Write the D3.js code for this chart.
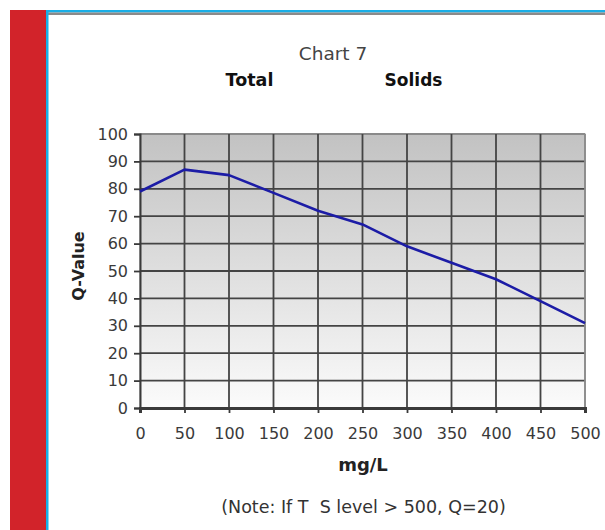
<!DOCTYPE html>
<html>
<head>
<meta charset="utf-8">
<script src="https://cdn.jsdelivr.net/npm/d3@7"></script>
<style>
  html, body { margin: 0; padding: 0; background: #fff; }
  svg { display: block; }
</style>
</head>
<body>
<svg id="chart" width="605" height="530"></svg>
<script>
// Total solids concentration (mg/L) and its Q-value
const concentration = [0, 50, 100, 150, 200, 250, 300, 350, 400, 450, 500];
const qValue = [79, 87, 85, 78.5, 72, 67, 59, 53, 47, 39, 31];
const xTicks = [0, 50, 100, 150, 200, 250, 300, 350, 400, 450, 500];
const yTicks = [0, 10, 20, 30, 40, 50, 60, 70, 80, 90, 100];

const svg = d3.select("#chart");
const font = "Verdana, 'DejaVu Sans', sans-serif";

// page frame: red side bar, blue/grey rules
svg.append("rect").attr("x", 10).attr("y", 10).attr("width", 36).attr("height", 520).attr("fill", "#d2232a");
svg.append("rect").attr("x", 46).attr("y", 10).attr("width", 559).attr("height", 2.5).attr("fill", "#19aee6");
svg.append("rect").attr("x", 48).attr("y", 12.5).attr("width", 557).attr("height", 2.5).attr("fill", "#8a8a8a");
svg.append("rect").attr("x", 46).attr("y", 10).attr("width", 2.5).attr("height", 520).attr("fill", "#19aee6");

const margin = { left: 140, top: 134, right: 585, bottom: 408 };
const x = d3.scaleLinear().domain([0, 500]).range([margin.left, margin.right]);
const y = d3.scaleLinear().domain([0, 100]).range([margin.bottom, margin.top]);

// plot background gradient
const defs = svg.append("defs");
const grad = defs.append("linearGradient").attr("id", "bg").attr("x1", 0).attr("y1", 0).attr("x2", 0).attr("y2", 1);
grad.append("stop").attr("offset", "0%").attr("stop-color", "#c2c2c2");
grad.append("stop").attr("offset", "100%").attr("stop-color", "#fbfbfb");

svg.append("rect")
  .attr("x", margin.left).attr("y", margin.top)
  .attr("width", margin.right - margin.left).attr("height", margin.bottom - margin.top)
  .attr("fill", "url(#bg)").attr("stroke", "#9a9a9a").attr("stroke-width", 1.2);

// grid
const grid = svg.append("g").attr("stroke-width", 1.8);
grid.selectAll(".h").data(yTicks.filter(d => d > 0)).join("line")
  .attr("x1", margin.left).attr("x2", margin.right)
  .attr("y1", d => y(d)).attr("y2", d => y(d))
  .attr("stroke", d => d === 100 ? "#8a8a8a" : "#444");
grid.selectAll(".v").data(xTicks.filter(d => d > 0)).join("line")
  .attr("y1", margin.top).attr("y2", margin.bottom)
  .attr("x1", d => x(d)).attr("x2", d => x(d))
  .attr("stroke", d => d === 500 ? "#8a8a8a" : "#444");

// axes
const yAxis = svg.append("g").attr("transform", `translate(${margin.left},0)`)
  .call(d3.axisLeft(y).tickValues(yTicks).tickSize(6).tickPadding(6));
const xAxis = svg.append("g").attr("transform", `translate(0,${margin.bottom})`)
  .call(d3.axisBottom(x).tickValues(xTicks).tickSize(5).tickPadding(15));
[yAxis, xAxis].forEach(a => {
  a.select(".domain").attr("stroke", "#3a3a3a").attr("stroke-width", 2);
  a.selectAll(".tick line").attr("stroke", "#3a3a3a").attr("stroke-width", 1.8);
  a.selectAll(".tick text").attr("fill", "#3a3a3a").style("font-family", font).style("font-size", "16px");
});
xAxis.select(".domain").attr("stroke-width", 3);

// data line
const line = d3.line().x((d, i) => x(concentration[i])).y(d => y(d));
svg.append("path").datum(qValue)
  .attr("d", line)
  .attr("fill", "none").attr("stroke", "#1c1ca6").attr("stroke-width", 2.6)
  .attr("stroke-linejoin", "round");

// titles
svg.append("text").attr("x", 333).attr("y", 60).attr("text-anchor", "middle")
  .style("font-family", font).style("font-size", "18.5px").attr("fill", "#444").text("Chart 7");
svg.append("text").attr("x", 249.5).attr("y", 86).attr("text-anchor", "middle")
  .style("font-family", font).style("font-size", "17.5px").style("font-weight", "bold").attr("fill", "#111").text("Total");
svg.append("text").attr("x", 413.5).attr("y", 86).attr("text-anchor", "middle")
  .style("font-family", font).style("font-size", "17px").style("font-weight", "bold").attr("fill", "#111").text("Solids");

svg.append("text").attr("x", 363).attr("y", 471).attr("text-anchor", "middle")
  .style("font-family", font).style("font-size", "18px").style("font-weight", "bold").attr("fill", "#222").text("mg/L");
svg.append("text").attr("transform", "translate(84,266) rotate(-90)").attr("text-anchor", "middle")
  .style("font-family", font).style("font-size", "16px").style("font-weight", "bold").attr("fill", "#222").text("Q-Value");

svg.append("text").attr("x", 363.5).attr("y", 513).attr("text-anchor", "middle")
  .style("font-family", font).style("font-size", "17.5px").attr("fill", "#333")
  .attr("xml:space", "preserve").style("white-space", "pre").text("(Note: If T  S level > 500, Q=20)");
</script>
</body>
</html>
